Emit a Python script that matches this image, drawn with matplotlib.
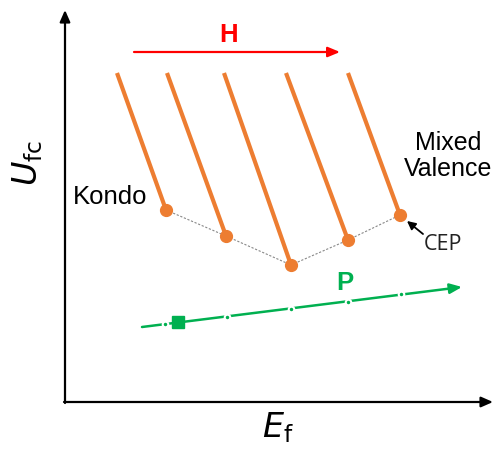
import matplotlib
matplotlib.use("Agg")
import matplotlib.pyplot as plt

# data (picture coordinates, y grows downward)
cep_x = [166, 226, 291, 348, 400]
cep_y = [210, 236, 265, 240, 215]
top_x = [117, 167, 224, 286, 348]
top_y = [73, 73, 73, 73, 73]
p_x = [165, 227, 291, 348, 401]
p_y = [324, 317, 309, 302, 294]
p_start = (142, 327)
p_end = (462, 287)
p_square = (178, 322)
h_start = (134, 52)
h_end = (340, 52)

ORANGE = "#ED7D31"
GREEN = "#00B050"
RED = "#FF0000"

fig = plt.figure(figsize=(4.93, 4.49), dpi=100)
ax = fig.add_axes([0, 0, 1, 1])
ax.set_xlim(0, 493)
ax.set_ylim(449, 0)
ax.axis("off")

# axes arrows
arrow_kw = dict(arrowstyle="-|>,head_length=0.5,head_width=0.22", lw=1.6, color="black",
                shrinkA=0, shrinkB=0, mutation_scale=14)
ax.annotate("", xy=(65, 10), xytext=(65, 403), arrowprops=arrow_kw)
ax.annotate("", xy=(493, 402), xytext=(64, 402), arrowprops=arrow_kw)

# dotted connecting line
ax.plot(cep_x, cep_y, color="#888888", lw=0.8, ls=(0, (2, 1.5)), zorder=2)

# orange lines
for tx, ty, cx, cy in zip(top_x, top_y, cep_x, cep_y):
    ax.plot([tx, cx], [ty, cy], color=ORANGE, lw=3.0, solid_capstyle="butt", zorder=3)
ax.plot(cep_x, cep_y, "o", color=ORANGE, ms=8.5, zorder=4)

# red H arrow
ax.annotate("", xy=h_end, xytext=h_start,
            arrowprops=dict(arrowstyle="-|>,head_length=0.6,head_width=0.25", lw=1.6,
                            color=RED, shrinkA=0, shrinkB=0, mutation_scale=12))
ax.text(229, 35, "H", color=RED, fontsize=18.5, fontweight="bold",
        ha="center", va="center", family="Liberation Sans")

# green P arrow
ax.annotate("", xy=p_end, xytext=p_start,
            arrowprops=dict(arrowstyle="-|>,head_length=0.6,head_width=0.25", lw=1.8,
                            color=GREEN, shrinkA=0, shrinkB=0, mutation_scale=12))
ax.plot(p_x, p_y, "o", color=GREEN, ms=4, mec="white", mew=1.5, zorder=4)
ax.plot([p_square[0]], [p_square[1]], "s", color=GREEN, ms=8, zorder=5)
ax.text(345, 283, "P", color=GREEN, fontsize=18.5, fontweight="bold",
        ha="center", va="center", family="Liberation Sans")

# labels
ax.text(110, 197, "Kondo", fontsize=18.5, ha="center", va="center", family="Liberation Sans")
ax.text(448, 156, "Mixed\nValence", fontsize=18, ha="center", va="center",
        family="Liberation Sans", linespacing=1.15)
ax.text(443, 245, "CEP", fontsize=15.5, ha="center", va="center", family="Open Sans", color="#222222")
ax.annotate("", xy=(407, 221), xytext=(423, 234),
            arrowprops=dict(arrowstyle="-|>,head_length=0.5,head_width=0.25", lw=1.3,
                            color="black", shrinkA=0, shrinkB=0, mutation_scale=10))

ax.text(28, 163, r"$U_{\mathrm{fc}}$", fontsize=24, rotation=90, ha="center", va="center")
ax.text(278, 428, r"$E_{\mathrm{f}}$", fontsize=24, ha="center", va="center")

fig.savefig("out.png", dpi=100)
